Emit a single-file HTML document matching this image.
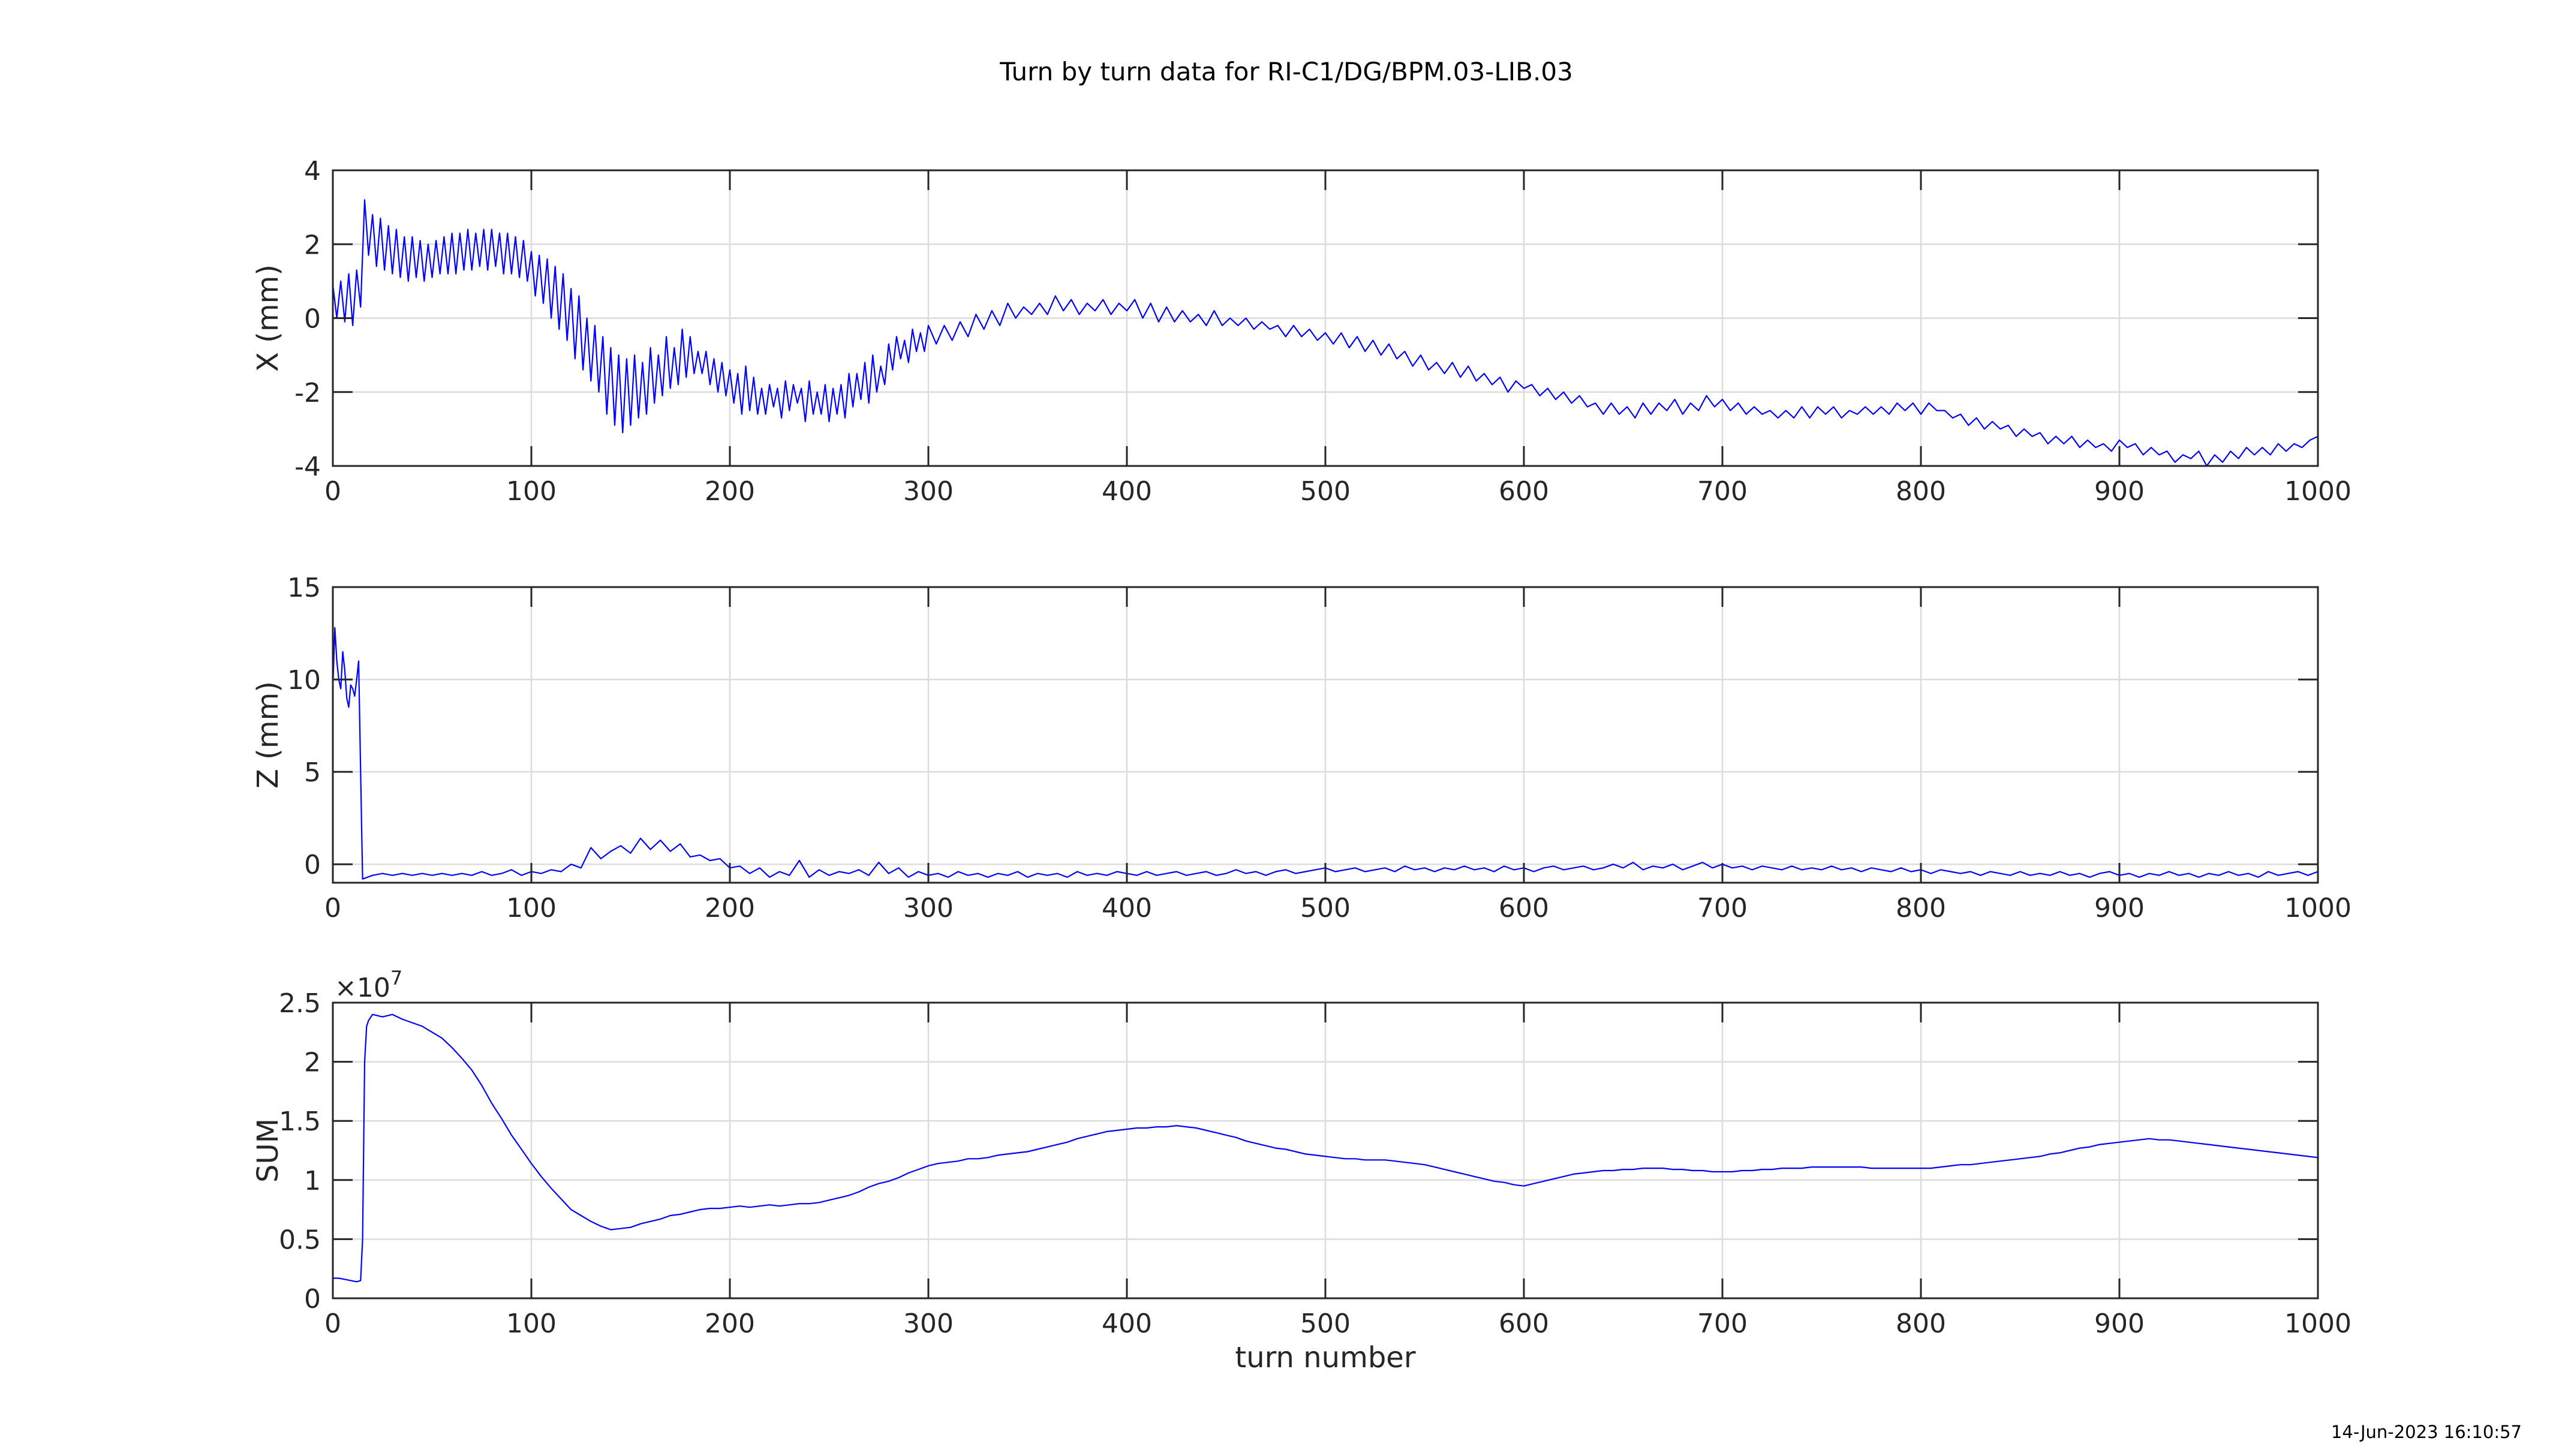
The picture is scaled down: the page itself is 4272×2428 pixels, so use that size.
<!DOCTYPE html>
<html>
<head>
<meta charset="utf-8">
<style>
html,body{margin:0;padding:0;background:#fff;}
svg{display:block;font-family:"DejaVu Sans","Liberation Sans",sans-serif;}
</style>
</head>
<body>
<svg id="fig" width="4272" height="2428" viewBox="0 0 4272 2428" xmlns="http://www.w3.org/2000/svg">
<rect x="0" y="0" width="4272" height="2428" fill="#fff"/>
<text x="2145" y="134" font-size="42" text-anchor="middle" fill="#000">Turn by turn data for RI-C1/DG/BPM.03-LIB.03</text>
<text x="4205" y="2398" font-size="29" text-anchor="end" fill="#000">14-Jun-2023 16:10:57</text>
<g id="plots"></g>
</svg>
<script>
// ---- data ----
const xTicks = [0,100,200,300,400,500,600,700,800,900,1000];
const xTickLabels = ["0","100","200","300","400","500","600","700","800","900","1000"];

const xPosTicks = [-4,-2,0,2,4];
const xPosTickLabels = ["-4","-2","0","2","4"];
const zPosTicks = [0,5,10,15];
const zPosTickLabels = ["0","5","10","15"];
const sumTicks = [0,0.5,1,1.5,2,2.5];
const sumTickLabels = ["0","0.5","1","1.5","2","2.5"];

// X (mm): turns 0..300 step 2
const xHeadStart = 0, xHeadStep = 2;
const xHeadVals = [0.9,0.0,1.0,-0.1,1.2,-0.2,1.3,0.3,3.2,1.7,2.8,1.4,2.7,1.3,2.5,1.2,2.4,1.1,2.2,1.0,
2.2,1.1,2.1,1.0,2.0,1.1,2.1,1.2,2.2,1.2,2.3,1.2,2.3,1.3,2.4,1.3,2.3,1.4,2.4,1.3,
2.4,1.4,2.3,1.2,2.3,1.2,2.2,1.1,2.1,1.0,1.8,0.6,1.7,0.4,1.6,0.0,1.4,-0.3,1.2,-0.6,
0.8,-1.1,0.6,-1.4,0.0,-1.7,-0.2,-2.0,-0.5,-2.6,-0.8,-2.9,-1.0,-3.1,-1.1,-2.9,-1.0,-2.7,-1.2,-2.6,
-0.8,-2.3,-1.0,-2.1,-0.5,-1.9,-0.8,-1.8,-0.3,-1.6,-0.5,-1.5,-0.9,-1.5,-0.9,-1.8,-1.1,-2.0,-1.2,-2.1,
-1.4,-2.3,-1.5,-2.6,-1.3,-2.5,-1.6,-2.6,-1.9,-2.6,-1.8,-2.4,-1.9,-2.7,-1.7,-2.5,-1.8,-2.3,-1.9,-2.8,
-1.7,-2.6,-2.0,-2.6,-1.8,-2.8,-1.9,-2.6,-1.8,-2.7,-1.5,-2.4,-1.5,-2.2,-1.2,-2.3,-1.0,-2.0,-1.3,-1.8,
-0.7,-1.4,-0.5,-1.1,-0.6,-1.2,-0.3,-0.9,-0.4,-0.9,-0.2];
// X (mm): turns 304..1000 step 4
const xTailStart = 304, xTailStep = 4;
const xTailVals = [-0.7,-0.2,-0.6,-0.1,-0.5,0.1,-0.3,0.2,-0.2,0.4,0.0,0.3,0.1,0.4,0.1,0.6,0.2,0.5,0.1,0.4,
0.2,0.5,0.1,0.4,0.2,0.5,0.0,0.4,-0.1,0.3,-0.1,0.2,-0.1,0.1,-0.2,0.2,-0.2,0.0,-0.2,0.0,
-0.3,-0.1,-0.3,-0.2,-0.5,-0.2,-0.5,-0.3,-0.6,-0.4,-0.7,-0.4,-0.8,-0.5,-0.9,-0.6,-1.0,-0.7,-1.1,-0.9,
-1.3,-1.0,-1.4,-1.2,-1.5,-1.2,-1.6,-1.3,-1.7,-1.5,-1.8,-1.6,-2.0,-1.7,-1.9,-1.8,-2.1,-1.9,-2.2,-2.0,
-2.3,-2.1,-2.4,-2.3,-2.6,-2.3,-2.6,-2.4,-2.7,-2.3,-2.6,-2.3,-2.5,-2.2,-2.6,-2.3,-2.5,-2.1,-2.4,-2.2,
-2.5,-2.3,-2.6,-2.4,-2.6,-2.5,-2.7,-2.5,-2.7,-2.4,-2.7,-2.4,-2.6,-2.4,-2.7,-2.5,-2.6,-2.4,-2.6,-2.4,
-2.6,-2.3,-2.5,-2.3,-2.6,-2.3,-2.5,-2.5,-2.7,-2.6,-2.9,-2.7,-3.0,-2.8,-3.0,-2.9,-3.2,-3.0,-3.2,-3.1,
-3.4,-3.2,-3.4,-3.2,-3.5,-3.3,-3.5,-3.4,-3.6,-3.3,-3.5,-3.4,-3.7,-3.5,-3.7,-3.6,-3.9,-3.7,-3.8,-3.6,
-4.0,-3.7,-3.9,-3.6,-3.8,-3.5,-3.7,-3.5,-3.7,-3.4,-3.6,-3.4,-3.5,-3.3,-3.2];

// Z (mm): turns 0..14 step 1, then 15..1000 step 5
const zHeadStart = 0, zHeadStep = 1;
const zHeadVals = [9.5,12.8,11.0,10.0,9.5,11.5,10.5,9.0,8.5,9.7,9.5,9.1,10.0,11.0,5.0];
const zTailStart = 15, zTailStep = 5;
const zTailVals = [-0.8,-0.6,-0.5,-0.6,-0.5,-0.6,-0.5,-0.6,-0.5,-0.6,-0.5,-0.6,-0.4,-0.6,-0.5,-0.3,-0.6,-0.4,-0.5,-0.3,
-0.4,0.0,-0.2,0.9,0.3,0.7,1.0,0.6,1.4,0.8,1.3,0.7,1.1,0.4,0.5,0.2,0.3,-0.2,-0.1,-0.5,
-0.2,-0.7,-0.4,-0.6,0.2,-0.7,-0.3,-0.6,-0.4,-0.5,-0.3,-0.6,0.1,-0.5,-0.2,-0.7,-0.4,-0.6,-0.5,-0.7,
-0.4,-0.6,-0.5,-0.7,-0.5,-0.6,-0.4,-0.7,-0.5,-0.6,-0.5,-0.7,-0.4,-0.6,-0.5,-0.6,-0.4,-0.5,-0.6,-0.4,
-0.6,-0.5,-0.4,-0.6,-0.5,-0.4,-0.6,-0.5,-0.3,-0.5,-0.4,-0.6,-0.4,-0.3,-0.5,-0.4,-0.3,-0.2,-0.4,-0.3,
-0.2,-0.4,-0.3,-0.2,-0.4,-0.1,-0.3,-0.2,-0.4,-0.2,-0.3,-0.1,-0.3,-0.2,-0.4,-0.1,-0.3,-0.2,-0.4,-0.2,
-0.1,-0.3,-0.2,-0.1,-0.3,-0.2,0.0,-0.2,0.1,-0.3,-0.1,-0.2,0.0,-0.3,-0.1,0.1,-0.2,0.0,-0.2,-0.1,
-0.3,-0.1,-0.2,-0.3,-0.1,-0.3,-0.2,-0.3,-0.1,-0.3,-0.2,-0.4,-0.2,-0.3,-0.4,-0.2,-0.4,-0.3,-0.5,-0.3,
-0.4,-0.5,-0.4,-0.6,-0.4,-0.5,-0.6,-0.4,-0.6,-0.5,-0.6,-0.4,-0.6,-0.5,-0.7,-0.5,-0.4,-0.6,-0.5,-0.7,
-0.5,-0.6,-0.4,-0.6,-0.5,-0.7,-0.5,-0.6,-0.4,-0.6,-0.5,-0.7,-0.4,-0.6,-0.5,-0.4,-0.6,-0.4];

// SUM (x1e7)
const sumHeadTurns = [0,3,6,9,12,14,15,16,17,18];
const sumHeadVals = [0.17,0.17,0.16,0.15,0.14,0.15,0.5,2.0,2.3,2.35];
const sumTailStart = 20, sumTailStep = 5;
const sumTailVals = [2.40,2.38,2.40,2.36,2.33,2.30,2.25,2.20,2.12,2.03,1.93,1.80,1.65,1.52,1.38,1.26,1.14,1.03,0.93,0.84,
0.75,0.70,0.65,0.61,0.58,0.59,0.60,0.63,0.65,0.67,0.70,0.71,0.73,0.75,0.76,0.76,0.77,0.78,0.77,0.78,
0.79,0.78,0.79,0.80,0.80,0.81,0.83,0.85,0.87,0.90,0.94,0.97,0.99,1.02,1.06,1.09,1.12,1.14,1.15,1.16,
1.18,1.18,1.19,1.21,1.22,1.23,1.24,1.26,1.28,1.30,1.32,1.35,1.37,1.39,1.41,1.42,1.43,1.44,1.44,1.45,
1.45,1.46,1.45,1.44,1.42,1.40,1.38,1.36,1.33,1.31,1.29,1.27,1.26,1.24,1.22,1.21,1.20,1.19,1.18,1.18,
1.17,1.17,1.17,1.16,1.15,1.14,1.13,1.11,1.09,1.07,1.05,1.03,1.01,0.99,0.98,0.96,0.95,0.97,0.99,1.01,
1.03,1.05,1.06,1.07,1.08,1.08,1.09,1.09,1.10,1.10,1.10,1.09,1.09,1.08,1.08,1.07,1.07,1.07,1.08,1.08,
1.09,1.09,1.10,1.10,1.10,1.11,1.11,1.11,1.11,1.11,1.11,1.10,1.10,1.10,1.10,1.10,1.10,1.10,1.11,1.12,
1.13,1.13,1.14,1.15,1.16,1.17,1.18,1.19,1.20,1.22,1.23,1.25,1.27,1.28,1.30,1.31,1.32,1.33,1.34,1.35,
1.34,1.34,1.33,1.32,1.31,1.30,1.29,1.28,1.27,1.26,1.25,1.24,1.23,1.22,1.21,1.20,1.19];

// ---- drawing ----
const NS = "http://www.w3.org/2000/svg";
const root = document.getElementById("plots");
const L = 555, W = 3310, H = 493;
function mk(tag, attrs, parent){
  const e = document.createElementNS(NS, tag);
  for (const k in attrs) e.setAttribute(k, attrs[k]);
  (parent||root).appendChild(e);
  return e;
}
function seq(start, step, vals){ return vals.map((v,i)=>[start+i*step, v]); }

function panel(key, top, ymin, ymax, yticks, ylabels, ytitle, series){
  const g = mk("g", {});
  
  
  const sx = t => L + (t - 0) / 1000 * W;
  const sy = v => top + H - (v - ymin) / (ymax - ymin) * H;
  xTicks.forEach((t,i)=>{
    if (t>0 && t<1000){
      const gl = mk("line",{x1:sx(t),x2:sx(t),y1:top,y2:top+H,stroke:"#dcdcdc","stroke-width":2.5},g);
      
      
    }
  });
  yticks.forEach(v=>{
    if (v>ymin && v<ymax){
      const gl = mk("line",{x1:L,x2:L+W,y1:sy(v),y2:sy(v),stroke:"#dcdcdc","stroke-width":2.5},g);
      
      
    }
  });
  let d = "";
  series.forEach((p,i)=>{ d += (i? "L":"M") + sx(p[0]).toFixed(1) + "," + sy(p[1]).toFixed(1); });
  const line = mk("path",{d:d,fill:"none",stroke:"#0000ff","stroke-width":2.2,"stroke-linejoin":"round"},g);
  
  
  xTicks.forEach((t,i)=>{
    const a = mk("line",{x1:sx(t),x2:sx(t),y1:top+H,y2:top+H-33,stroke:"#262626","stroke-width":3},g);
    
    
    const b = mk("line",{x1:sx(t),x2:sx(t),y1:top,y2:top+33,stroke:"#262626","stroke-width":3},g);
    
    
    const tl = mk("text",{x:sx(t),y:top+H+57,"font-size":44,"text-anchor":"middle",fill:"#262626"},g);
    tl.textContent = xTickLabels[i];
    
    
  });
  yticks.forEach((v,i)=>{
    const a = mk("line",{x1:L,x2:L+33,y1:sy(v),y2:sy(v),stroke:"#262626","stroke-width":3},g);
    
    
    const b = mk("line",{x1:L+W,x2:L+W-33,y1:sy(v),y2:sy(v),stroke:"#262626","stroke-width":3},g);
    
    
    const tl = mk("text",{x:L-20,y:sy(v)+16,"font-size":44,"text-anchor":"end",fill:"#262626"},g);
    tl.textContent = ylabels[i];
    
    
  });
  const fr = mk("rect",{x:L,y:top,width:W,height:H,fill:"none",stroke:"#262626","stroke-width":3},g);
  
  
  const yt = mk("text",{x:0,y:0,"font-size":48,"text-anchor":"middle",fill:"#262626",
    transform:"translate(463," + (top+H/2) + ") rotate(-90)"},g);
  yt.textContent = ytitle;
  
  
  return {g, sx, sy};
}

panel("x", 284, -4, 4, xPosTicks, xPosTickLabels, "X (mm)",
  seq(xHeadStart, xHeadStep, xHeadVals).concat(seq(xTailStart, xTailStep, xTailVals)));
panel("z", 979, -1, 15, zPosTicks, zPosTickLabels, "Z (mm)",
  seq(zHeadStart, zHeadStep, zHeadVals).concat(seq(zTailStart, zTailStep, zTailVals)));
const p3 = panel("sum", 1672, 0, 2.5, sumTicks, sumTickLabels, "SUM",
  sumHeadTurns.map((t,i)=>[t, sumHeadVals[i]]).concat(seq(sumTailStart, sumTailStep, sumTailVals)));

const ex = mk("text",{x:558,y:1662,"font-size":44,fill:"#262626"},p3.g);
ex.innerHTML = '×10<tspan font-size="32" dy="-20">7</tspan>';



const xt = mk("text",{x:L+W/2,y:2280,"font-size":48,"text-anchor":"middle",fill:"#262626"});
xt.textContent = "turn number";


</script>
</body>
</html>
